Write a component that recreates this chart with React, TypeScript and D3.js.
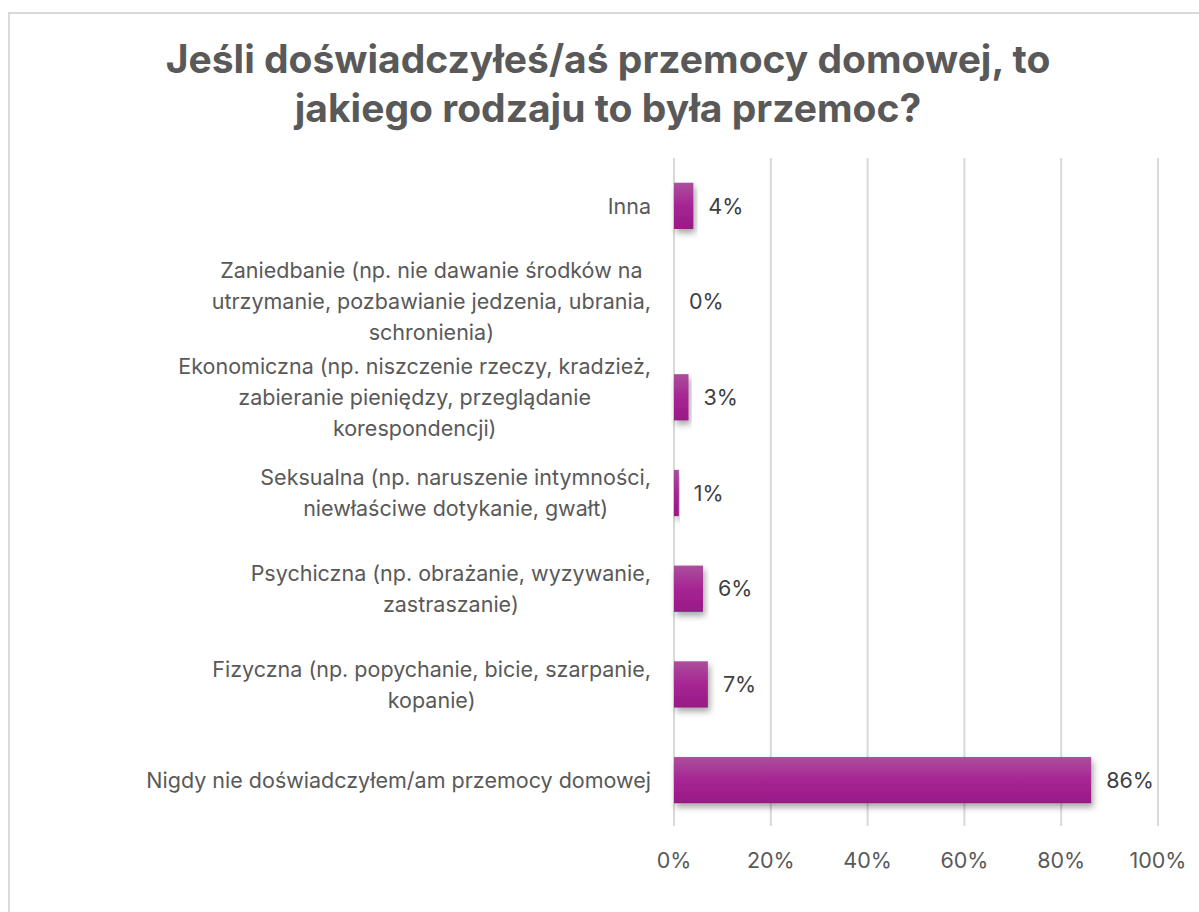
import React from "react";
import * as d3 from "d3";

const categories: string[][] = [
  ["Inna"],
  ["Zaniedbanie (np. nie dawanie środków na", "utrzymanie, pozbawianie jedzenia, ubrania,", "schronienia)"],
  ["Ekonomiczna (np. niszczenie rzeczy, kradzież,", "zabieranie pieniędzy, przeglądanie", "korespondencji)"],
  ["Seksualna (np. naruszenie intymności,", "niewłaściwe dotykanie, gwałt)"],
  ["Psychiczna (np. obrażanie, wyzywanie,", "zastraszanie)"],
  ["Fizyczna (np. popychanie, bicie, szarpanie,", "kopanie)"],
  ["Nigdy nie doświadczyłem/am przemocy domowej"],
];
const values: number[] = [0.04, 0.0, 0.03, 0.01, 0.06, 0.07, 0.862];
const tickValues: number[] = [0, 0.2, 0.4, 0.6, 0.8, 1.0];
const titleLines: string[] = ["Jeśli doświadczyłeś/aś przemocy domowej, to", "jakiego rodzaju to była przemoc?"];

const W = 1199;
const H = 912;
const plotLeft = 674;
const plotRight = 1158;
const plotTop = 158;
const plotBottom = 826;
const bandBottom = 828;
const FONT = 'Inter, "Liberation Sans", Arial, sans-serif';
const LABEL_SIZE = 21.5;
const labelFont = `${LABEL_SIZE}px Inter`;

let ctx: CanvasRenderingContext2D | null = null;
function measure(t: string): number {
  if (!ctx) {
    const c = document.createElement("canvas");
    ctx = c.getContext("2d");
  }
  if (!ctx) return t.length * 10.5;
  ctx.font = labelFont;
  return ctx.measureText(t).width;
}

export default function App() {
  const x = d3.scaleLinear().domain([0, 1]).range([plotLeft, plotRight]);
  const idx = categories.map((_, i) => String(i));
  const y = d3.scaleBand().domain(idx).range([plotTop, bandBottom]).paddingInner(0.517).paddingOuter(0.2585);
  const bw = y.bandwidth();
  const lineH = 31;

  return (
    <svg width={W} height={H} style={{ position: "absolute", left: 0, top: 0 }}>
      <defs>
        <linearGradient id="barGrad" x1="0" y1="0" x2="0" y2="1">
          <stop offset="0" stopColor="#AB4F9C" />
          <stop offset="0.5" stopColor="#A62593" />
          <stop offset="1" stopColor="#971985" />
        </linearGradient>
        <filter id="shadow" x="-20%" y="-20%" width="140%" height="160%">
          <feDropShadow dx="2" dy="4" stdDeviation="3" floodColor="#000" floodOpacity="0.35" />
        </filter>
      </defs>
      <rect x={0} y={0} width={W} height={H} fill="#fff" />
      <rect x={9} y={13} width={W + 20} height={H + 20} fill="#fff" stroke="#D9D9D9" strokeWidth={2} />
      {titleLines.map((t, i) => (
        <text
          key={i}
          x={608}
          y={73 + i * 49}
          textAnchor="middle"
          fontFamily={FONT}
          fontWeight="bold"
          fontSize={39}
          fill="#595959"
        >
          {t}
        </text>
      ))}
      {tickValues.map((v) => (
        <line key={v} x1={x(v)} x2={x(v)} y1={plotTop} y2={plotBottom} stroke="#D9D9D9" strokeWidth={2} />
      ))}
      {tickValues.map((v) => (
        <text
          key={"t" + v}
          x={x(v)}
          y={868}
          textAnchor="middle"
          fontFamily={FONT}
          fontSize={LABEL_SIZE}
          fill="#595959"
        >
          {d3.format(".0%")(v)}
        </text>
      ))}
      {categories.map((lines, i) => {
        const cy = (y(String(i)) as number) + bw / 2;
        const maxW = Math.max(...lines.map(measure));
        const cx = 651 - maxW / 2;
        const y0 = cy - ((lines.length - 1) * lineH) / 2;
        return (
          <text key={"c" + i} textAnchor="middle" fontFamily={FONT} fontSize={LABEL_SIZE} fill="#595959">
            {lines.map((l, j) => (
              <tspan key={j} x={cx} y={y0 + j * lineH} dy="0.36em">
                {l}
              </tspan>
            ))}
          </text>
        );
      })}
      {values.map((v, i) => {
        const by = y(String(i)) as number;
        const w = x(v) - x(0);
        return (
          <g key={"b" + i}>
            {w > 0 && (
              <rect x={x(0)} y={by} width={w} height={bw} fill="url(#barGrad)" filter="url(#shadow)" />
            )}
            <text
              x={x(v) + 15}
              y={by + bw / 2}
              dy="0.36em"
              fontFamily={FONT}
              fontSize={LABEL_SIZE}
              fill="#404040"
            >
              {d3.format(".0%")(v)}
            </text>
          </g>
        );
      })}
    </svg>
  );
}
